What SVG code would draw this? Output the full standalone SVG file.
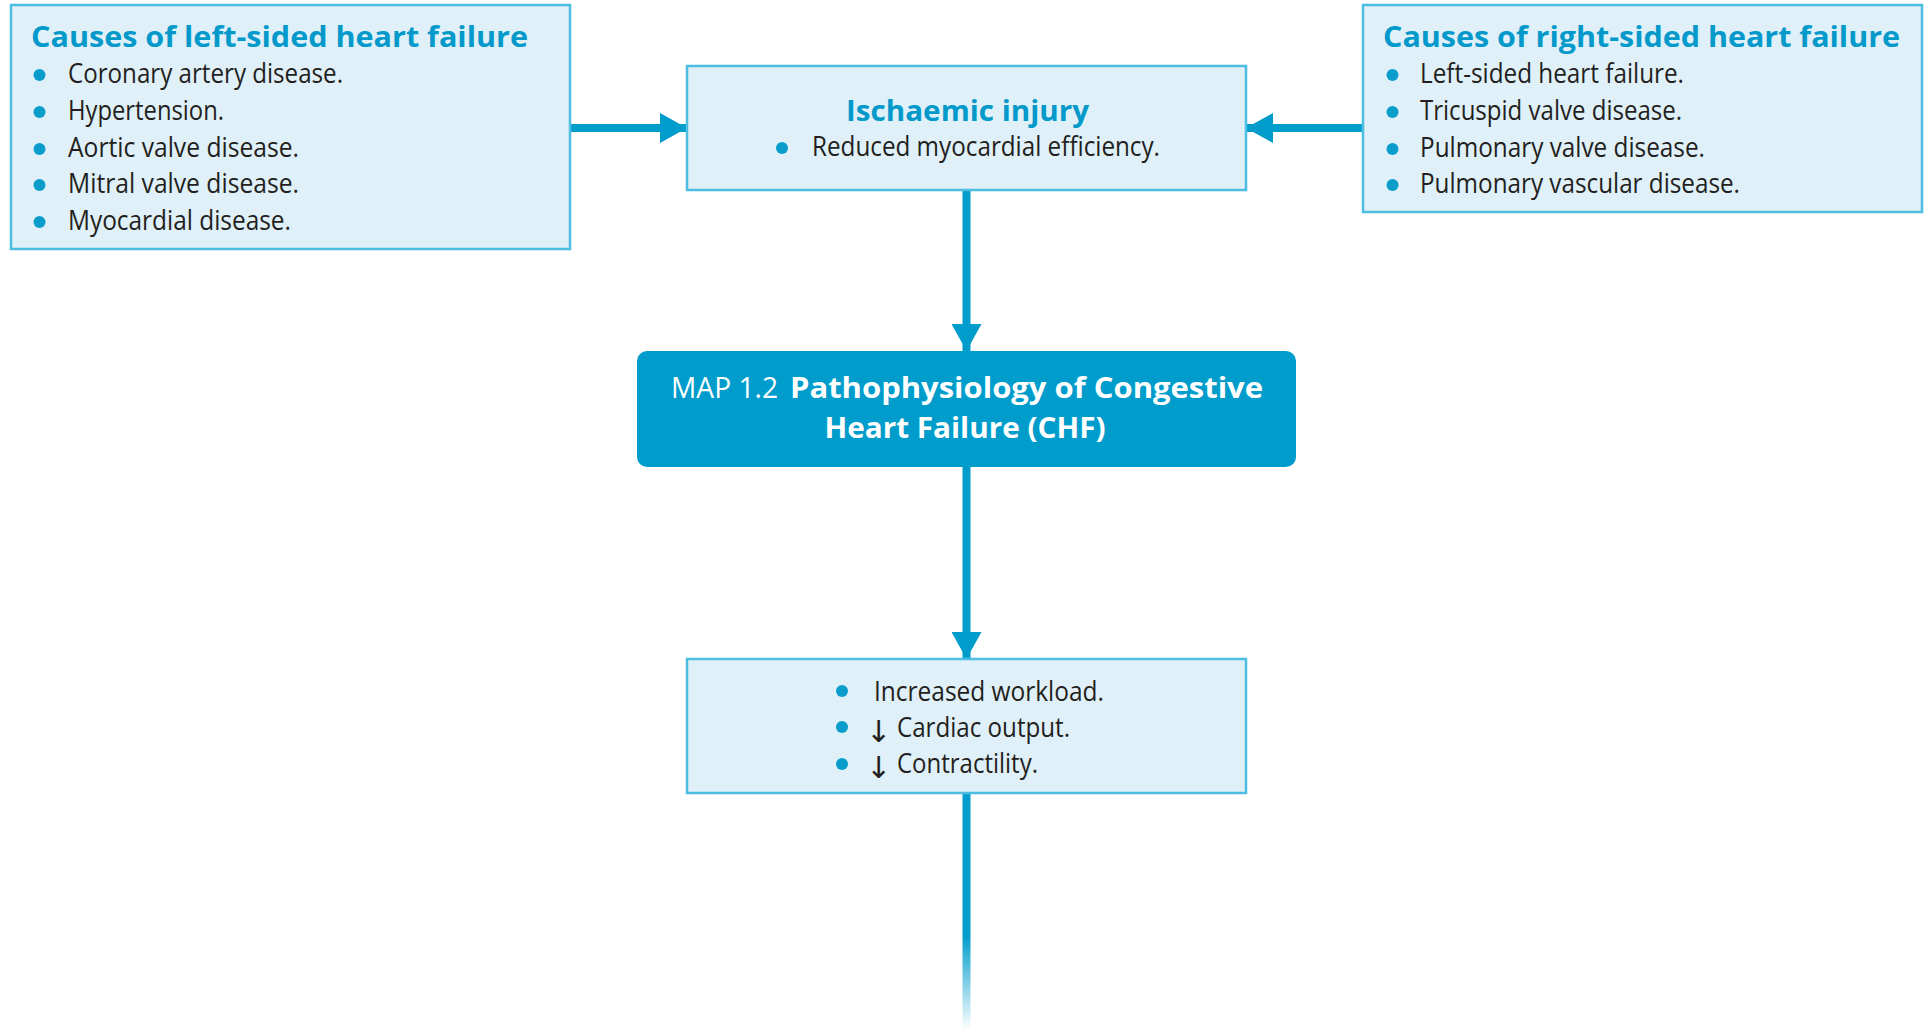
<svg xmlns="http://www.w3.org/2000/svg" width="1929" height="1033" viewBox="0 0 1929 1033">
  <style>
    .box { fill: #dff0f8; stroke: #4dbde1; stroke-width: 2.5; }
    .map { fill: #009ccb; }
    .head { font-family: "Open Sans", "Liberation Sans", sans-serif; font-weight: 700; font-size: 28px; fill: #0399cb; }
    .item { font-family: "Open Sans", "Liberation Sans", sans-serif; font-size: 28px; fill: #231f20; }
    .mapt { font-family: "Open Sans", "Liberation Sans", sans-serif; font-size: 29px; fill: #ffffff; }
    .bold { font-weight: 700; }
    .dot { fill: #0a9dcc; }
    .link { stroke: #009ccb; stroke-width: 8; fill: none; }
    .arrow { fill: #009ccb; }
    .arrowsym { font-family: "DejaVu Sans", sans-serif; font-size: 30px; fill: #231f20; }
  </style>
  <defs>
    <marker id="tip" markerUnits="userSpaceOnUse" markerWidth="27" markerHeight="30" refX="27" refY="15" orient="auto" viewBox="0 0 27 30">
      <path class="arrow" d="M0,0 L27,15 L0,30 Z"/>
    </marker>
    <linearGradient id="fade" x1="0" y1="793" x2="0" y2="1030" gradientUnits="userSpaceOnUse">
      <stop offset="0" stop-color="#009ccb"/>
      <stop offset="0.6" stop-color="#009ccb"/>
      <stop offset="1" stop-color="#009ccb" stop-opacity="0"/>
    </linearGradient>
  </defs>

  <rect width="1929" height="1033" fill="#ffffff"/>

  <!-- connectors -->
  <g id="connectors">
    <line class="link" x1="570" y1="128" x2="687" y2="128" marker-end="url(#tip)"/>
    <line class="link" x1="1363" y1="128" x2="1246" y2="128" marker-end="url(#tip)"/>
    <line class="link" x1="966.5" y1="190" x2="966.5" y2="351" marker-end="url(#tip)"/>
    <line class="link" x1="966.5" y1="467" x2="966.5" y2="659" marker-end="url(#tip)"/>
    <rect x="962.5" y="793" width="8" height="237" fill="url(#fade)"/>
  </g>

  <!-- causes of left-sided failure -->
  <g id="left-causes">
    <rect class="box" x="11" y="5" width="559" height="244"/>
    <text class="head" x="31" y="47" textLength="497" lengthAdjust="spacingAndGlyphs">Causes of left-sided heart failure</text>
    <circle class="dot" cx="39.5" cy="75" r="6"/>
    <circle class="dot" cx="39.5" cy="112" r="6"/>
    <circle class="dot" cx="39.5" cy="149" r="6"/>
    <circle class="dot" cx="39.5" cy="185" r="6"/>
    <circle class="dot" cx="39.5" cy="222" r="6"/>
    <text class="item" x="68" y="83" textLength="275" lengthAdjust="spacingAndGlyphs">Coronary artery disease.</text>
    <text class="item" x="68" y="120" textLength="156" lengthAdjust="spacingAndGlyphs">Hypertension.</text>
    <text class="item" x="68" y="157" textLength="231" lengthAdjust="spacingAndGlyphs">Aortic valve disease.</text>
    <text class="item" x="68" y="193" textLength="231" lengthAdjust="spacingAndGlyphs">Mitral valve disease.</text>
    <text class="item" x="68" y="230" textLength="223" lengthAdjust="spacingAndGlyphs">Myocardial disease.</text>
  </g>

  <!-- ischaemic injury -->
  <g id="ischaemic-injury">
    <rect class="box" x="687" y="66" width="559" height="124"/>
    <text class="head" x="846" y="121" textLength="243" lengthAdjust="spacingAndGlyphs">Ischaemic injury</text>
    <circle class="dot" cx="782" cy="148" r="6"/>
    <text class="item" x="812" y="156" textLength="348" lengthAdjust="spacingAndGlyphs">Reduced myocardial efficiency.</text>
  </g>

  <!-- causes of right-sided failure -->
  <g id="right-causes">
    <rect class="box" x="1363" y="5" width="559" height="207"/>
    <text class="head" x="1383" y="47" textLength="517" lengthAdjust="spacingAndGlyphs">Causes of right-sided heart failure</text>
    <circle class="dot" cx="1392.5" cy="75" r="6"/>
    <circle class="dot" cx="1392.5" cy="112" r="6"/>
    <circle class="dot" cx="1392.5" cy="149" r="6"/>
    <circle class="dot" cx="1392.5" cy="185" r="6"/>
    <text class="item" x="1420" y="83" textLength="264" lengthAdjust="spacingAndGlyphs">Left-sided heart failure.</text>
    <text class="item" x="1420" y="120" textLength="262" lengthAdjust="spacingAndGlyphs">Tricuspid valve disease.</text>
    <text class="item" x="1420" y="157" textLength="285" lengthAdjust="spacingAndGlyphs">Pulmonary valve disease.</text>
    <text class="item" x="1420" y="193" textLength="320" lengthAdjust="spacingAndGlyphs">Pulmonary vascular disease.</text>
  </g>

  <!-- map title -->
  <g id="map-title">
    <rect class="map" x="637" y="351" width="659" height="116" rx="10" ry="10"/>
    <text class="mapt" y="398"><tspan x="671" textLength="107" lengthAdjust="spacingAndGlyphs">MAP 1.2</tspan><tspan class="bold" x="790" textLength="473" lengthAdjust="spacingAndGlyphs">Pathophysiology of Congestive</tspan></text>
    <text class="mapt bold" x="824.5" y="438" textLength="281" lengthAdjust="spacingAndGlyphs">Heart Failure (CHF)</text>
  </g>

  <!-- consequences -->
  <g id="workload">
    <rect class="box" x="687" y="659" width="559" height="134"/>
    <circle class="dot" cx="842" cy="691" r="6"/>
    <circle class="dot" cx="842" cy="727" r="6"/>
    <circle class="dot" cx="842" cy="764" r="6"/>
    <text class="item" x="874" y="701" textLength="230" lengthAdjust="spacingAndGlyphs">Increased workload.</text>
    <text class="item" y="737"><tspan class="arrowsym" x="866" dy="5">↓</tspan><tspan x="897" dy="-5" textLength="173" lengthAdjust="spacingAndGlyphs">Cardiac output.</tspan></text>
    <text class="item" y="773"><tspan class="arrowsym" x="866" dy="5">↓</tspan><tspan x="897" dy="-5" textLength="141" lengthAdjust="spacingAndGlyphs">Contractility.</tspan></text>
  </g>
</svg>
